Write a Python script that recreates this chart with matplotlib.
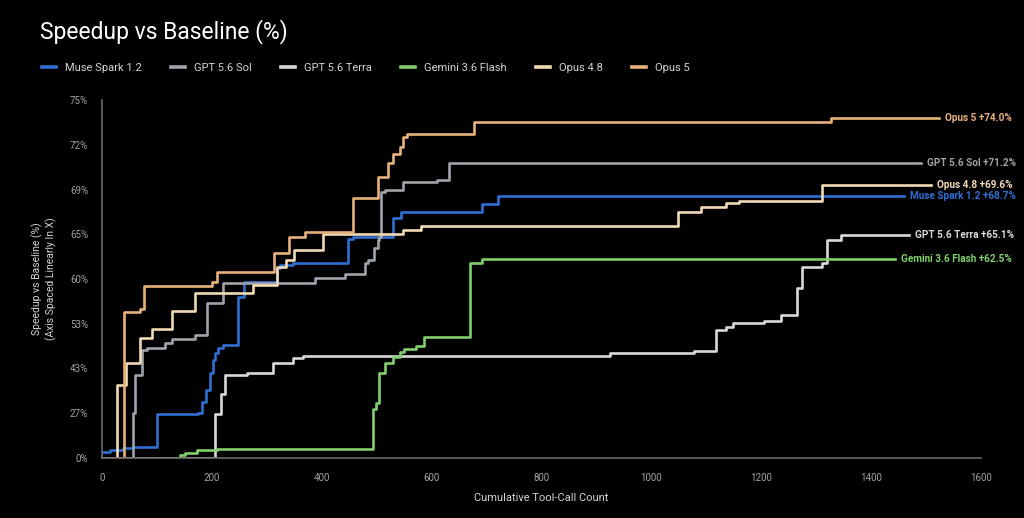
"""
Speedup vs baseline over cumulative tool calls, one stepped curve per model.

The y axis is spaced linearly in speedup factor X = 1 / (1 - p), while the
tick labels show the equivalent percentage p.
"""

import matplotlib

matplotlib.use("Agg")
import matplotlib.pyplot as plt
import numpy as np

plt.rcParams["font.family"] = ["Roboto", "DejaVu Sans"]

BG = "#000000"
AXIS_GREY = "#6a6a6a"
TICK_GREY = "#a3a3a3"
TEXT_LIGHT = "#d4d4d4"

# ---- data (cumulative tool calls, best speedup % so far; step "post") ----
MUSE_X = [0, 15, 38, 56, 100, 175, 182, 189, 196, 202, 205, 211, 220, 247, 258,
          318, 324, 347, 447, 456, 529, 545, 691, 720, 1460]
MUSE_Y = [4.8, 6.3, 7.7, 8.4, 26.9, 27.4, 31.9, 36.3, 41.6, 45.1, 46.8, 48.0, 48.6,
          57.4, 59.6, 61.4, 61.8, 62.0, 64.7, 64.9, 66.8, 67.3, 68.0, 68.7, 68.7]

SOL_X = [0, 56, 60, 73, 82, 115, 127, 169, 191, 220, 387, 442, 478, 484, 496, 502,
         505, 507, 515, 547, 609, 631, 1491]
SOL_Y = [0, 27.4, 41.0, 47.5, 48.0, 49.1, 49.9, 50.8, 56.5, 59.4, 60.1, 60.7, 62.0,
         62.4, 63.8, 64.6, 64.9, 69.0, 69.2, 69.8, 70.0, 71.2, 71.2]

TERRA_X = [0, 205, 216, 224, 264, 311, 347, 365, 925, 1078, 1118, 1136, 1149, 1205,
           1236, 1265, 1275, 1311, 1320, 1345, 1469]
TERRA_Y = [0, 27.0, 35.0, 41.0, 41.6, 44.3, 45.6, 46.1, 46.8, 47.3, 51.8, 52.3, 53.1,
           53.5, 54.5, 58.8, 61.6, 62.0, 64.6, 65.1, 65.1]

GEMINI_X = [0, 142, 151, 173, 209, 493, 498, 505, 515, 529, 542, 549, 571, 587, 669,
            691, 1444]
GEMINI_Y = [0, 2.4, 4.0, 6.3, 7.3, 29.1, 31.6, 41.6, 44.3, 45.8, 47.0, 47.7, 48.4,
            50.4, 62.0, 62.5, 62.5]

OPUS48_X = [0, 27, 44, 69, 91, 127, 169, 275, 318, 335, 350, 402, 547, 580, 1049,
            1091, 1136, 1160, 1311, 1509]
OPUS48_Y = [0, 38.0, 44.3, 50.1, 52.0, 55.2, 58.0, 59.2, 61.5, 62.4, 63.5, 65.2, 65.6,
            66.0, 67.3, 67.8, 68.1, 68.3, 69.6, 69.6]

OPUS5_X = [0, 40, 69, 76, 200, 209, 313, 340, 369, 456, 502, 520, 529, 542, 547, 555,
           678, 1327, 1524]
OPUS5_Y = [0, 55.0, 55.5, 59.0, 59.6, 60.9, 63.2, 64.9, 65.4, 68.5, 70.2, 71.2, 71.8,
           72.3, 72.9, 73.1, 73.8, 74.0, 74.0]

SERIES = [
    ("Muse Spark 1.2", MUSE_X, MUSE_Y, "#2f6fd4"),
    ("GPT 5.6 Sol", SOL_X, SOL_Y, "#9fa3aa"),
    ("GPT 5.6 Terra", TERRA_X, TERRA_Y, "#d9d9d9"),
    ("Gemini 3.6 Flash", GEMINI_X, GEMINI_Y, "#80cf6b"),
    ("Opus 4.8", OPUS48_X, OPUS48_Y, "#f1dab6"),
    ("Opus 5", OPUS5_X, OPUS5_Y, "#e8b17c"),
]

# y ticks sit at evenly spaced speedup factors
SPEEDUP_TICKS = [1.0, 1.375, 1.75, 2.125, 2.5, 2.875, 3.25, 3.625, 4.0]
Y_TICK_LABELS = ["0%", "27%", "43%", "53%", "60%", "65%", "69%", "72%", "75%"]
X_TICKS = [0, 200, 400, 600, 800, 1000, 1200, 1400, 1600]


def pct_to_speedup(p):
    p = np.asarray(p, dtype=float)
    with np.errstate(divide="ignore", invalid="ignore"):
        return 1.0 / (1.0 - p / 100.0)


def speedup_to_pct(s):
    s = np.asarray(s, dtype=float)
    with np.errstate(divide="ignore", invalid="ignore"):
        return 100.0 * (1.0 - 1.0 / s)


fig = plt.figure(figsize=(10.24, 5.18), dpi=100, facecolor=BG)
ax = fig.add_axes([102 / 1024, 1 - 458 / 518, (981 - 102) / 1024, (458 - 100) / 518])
ax.set_facecolor(BG)

ax.set_yscale("function", functions=(pct_to_speedup, speedup_to_pct))
ax.set_xlim(0, 1600)
ax.set_ylim(0, 75)

for name, xs, ys, color in SERIES:
    ax.step(xs, ys, where="post", color=color, lw=1.9, label=name)
    ax.annotate(
        f"{name} +{ys[-1]:.1f}%",
        xy=(xs[-1], ys[-1]),
        xytext=(4, 0),
        textcoords="offset points",
        ha="left",
        va="center",
        fontsize=7.2,
        fontweight="bold",
        color=color,
        annotation_clip=False,
    )

ax.set_yticks(speedup_to_pct(SPEEDUP_TICKS))
ax.set_yticklabels(Y_TICK_LABELS)
ax.set_xticks(X_TICKS)
ax.minorticks_off()
ax.tick_params(axis="both", length=0, labelsize=7, labelcolor=TICK_GREY)
ax.tick_params(axis="y", pad=10)
ax.tick_params(axis="x", pad=11)

for side in ("top", "right"):
    ax.spines[side].set_visible(False)
for side in ("left", "bottom"):
    ax.spines[side].set_color(AXIS_GREY)
    ax.spines[side].set_linewidth(1.2)

ax.set_xlabel("Cumulative Tool-Call Count", fontsize=8, color=TEXT_LIGHT, labelpad=7)
ax.set_ylabel(
    "Speedup vs Baseline (%)\n(Axis Spaced Linearly In X)",
    fontsize=7.5,
    color=TEXT_LIGHT,
    labelpad=9,
    linespacing=1.3,
)

fig.text(40 / 1024, 1 - 32 / 518, "Speedup vs Baseline (%)", fontsize=16.5,
         color="white", ha="left", va="center")

leg = fig.legend(
    loc="center left",
    bbox_to_anchor=(32 / 1024, 1 - 68 / 518),
    ncol=6,
    frameon=False,
    fontsize=8,
    labelcolor=TEXT_LIGHT,
    handlelength=1.3,
    handletextpad=0.8,
    columnspacing=2.6,
)
for line in leg.get_lines():
    line.set_linewidth(2.6)

fig.savefig("out.png", dpi=100, facecolor=BG)
